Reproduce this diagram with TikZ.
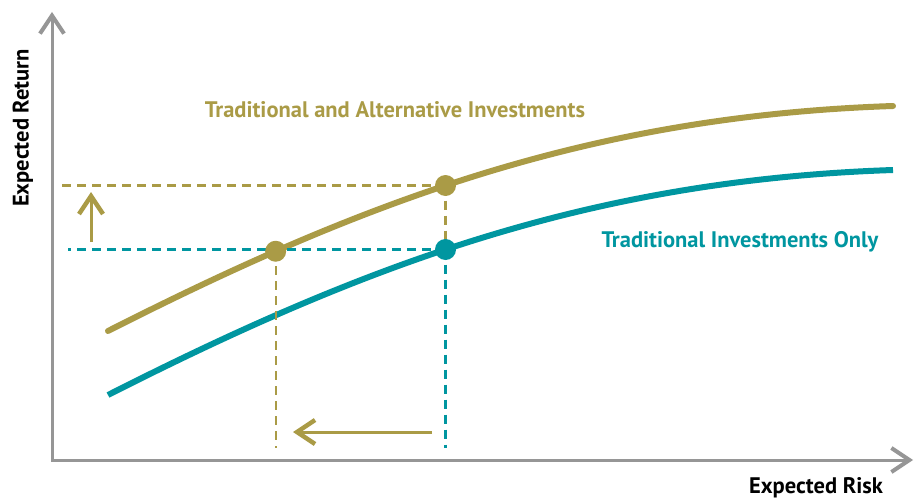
\documentclass[tikz,border=0pt]{standalone}
\usepackage{fontspec}
\setmainfont{PT Sans}
\usetikzlibrary{arrows.meta}
\definecolor{goldline}{RGB}{170,155,70}
\definecolor{tealline}{RGB}{0,150,160}
\definecolor{axisgray}{RGB}{150,150,150}

\begin{document}
\begin{tikzpicture}[x=1pt,y=-1pt,
    axis/.style={axisgray,line width=3pt,
      {Straight Barb[length=18pt,width=24pt,line width=4pt]}-{Straight Barb[length=18pt,width=24pt,line width=4pt]}},
    goldcurve/.style={goldline,line width=6pt,line cap=round},
    tealcurve/.style={tealline,line width=6pt},
    golddash/.style={goldline,line width=2.3pt,dash pattern=on 9pt off 6pt},
    tealdash/.style={tealline,line width=2.3pt,dash pattern=on 9pt off 6pt},
    dot/.style={circle,inner sep=0pt,minimum size=21pt},
    goldarrow/.style={goldline,line width=3pt,-{Straight Barb[length=18pt,width=24pt,line width=4.5pt]}},
    label/.style={font=\fontsize{22.5}{26}\selectfont\bfseries,inner sep=0pt}]
  \useasboundingbox (0,0) rectangle (920,500);

  \coordinate (origin) at (52,460);
  \coordinate (ytop) at (52,12);
  \coordinate (xend) at (913,460);
  \draw[axis] (ytop) -- (origin) -- (xend);

  \draw[goldcurve] (108,331) .. controls (368,199) and (593,116) .. (893,106)
    coordinate[pos=0.22] (g1) coordinate[pos=0.447] (g2);
  \draw[tealcurve] (108,395) .. controls (368,263) and (593,180) .. (893,170)
    coordinate[pos=0.447] (t2);

  \coordinate (gleft) at (62,0);
  \coordinate (tleft) at (68,0);
  \coordinate (floor) at (0,448);
  \path[golddash] (g2) edge (g2 -| gleft) edge (t2);
  \path[golddash] (g1) edge (g1 |- floor);
  \path[tealdash] (t2) edge (t2 -| tleft) edge (t2 |- floor);

  \node[dot,fill=goldline] (lowrisk) at (g1) {};
  \node[dot,fill=goldline] (highret) at (g2) {};
  \node[dot,fill=tealline] (tradpt) at (t2) {};

  \coordinate (upfrom) at (91,242);
  \coordinate (upto) at (91,192);
  \coordinate (leftfrom) at (432,432);
  \coordinate (leftto) at (293,432);
  \draw[goldarrow] (upfrom) -- (upto);
  \draw[goldarrow] (leftfrom) -- (leftto);

  \node[label,text=goldline] (mixlabel) at (395,110) {Traditional and Alternative Investments};
  \node[label,text=tealline] (tradlabel) at (740,242) {Traditional Investments Only};
  \node[label] (risklabel) at (816,488) {Expected Risk};
  \node[label,rotate=90] (returnlabel) at (23,128) {Expected Return};
\end{tikzpicture}
\end{document}
